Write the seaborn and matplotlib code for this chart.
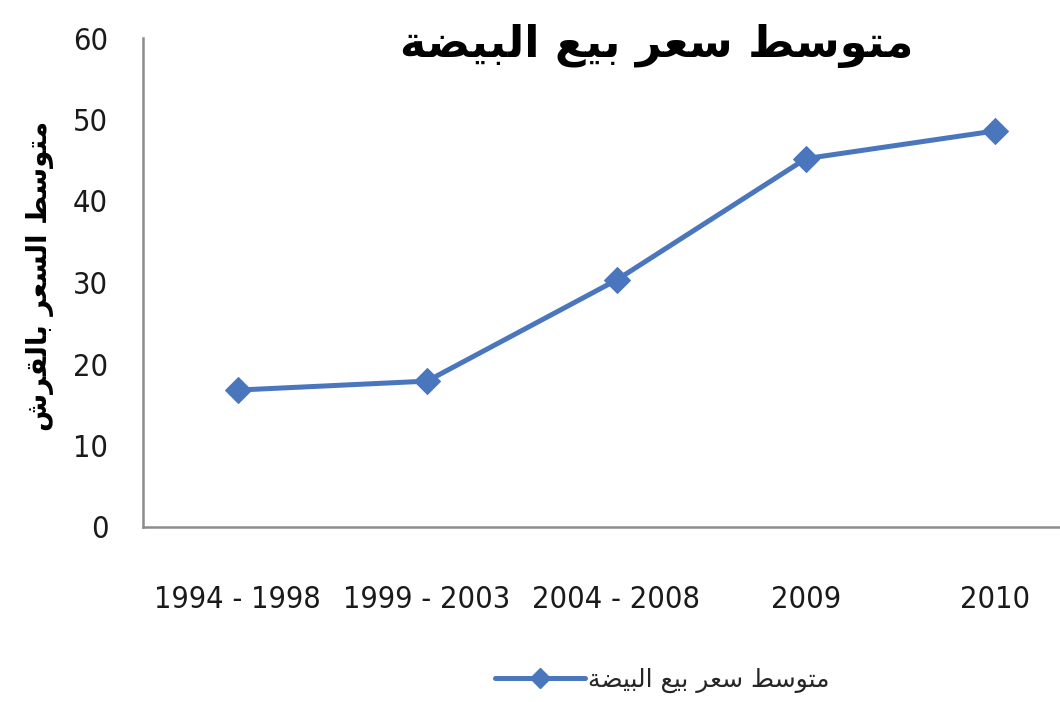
import matplotlib
matplotlib.use("Agg")
import matplotlib.pyplot as plt
import seaborn as sns
import pandas as pd
from matplotlib.lines import Line2D
from matplotlib import font_manager

# Periods and average egg price (piastres)
periods = ["1994 - 1998", "1999 - 2003", "2004 - 2008", "2009", "2010"]
avg_price = [16.8, 17.9, 30.3, 45.2, 48.6]
y_ticks = [0, 10, 20, 30, 40, 50, 60]

# Arabic strings written with contextual presentation forms in display order
title_text = ("\uFE94\uFEC0\uFEF4\uFE92\uFEDF\uFE8D "
              "\uFECA\uFEF4\uFE91 "
              "\uFEAE\uFECC\uFEB3 "
              "\uFEC2\uFEB3\uFEEE\uFE98\uFEE3")
ylabel_text = ("\uFEB5\uFEAE\uFED8\uFEDF\uFE8E\uFE91 "
               "\uFEAE\uFECC\uFEB4\uFEDF\uFE8D "
               "\uFEC2\uFEB3\uFEEE\uFE98\uFEE3")
series_name = title_text

df = pd.DataFrame({"period": periods, "price": avg_price, "series": series_name})

sns.set_style("white")
plt.rcParams["font.family"] = ["DejaVu Sans"]

tick_font = font_manager.FontProperties(family="DejaVu Sans", stretch="condensed",
                                        size=22)

fig = plt.figure(figsize=(10.6, 7.02), dpi=100)
ax = fig.add_axes([143 / 1060, 1 - 527 / 702, (1090 - 143) / 1060, (527 - 38) / 702])

line_color = "#4A76BE"
sns.lineplot(data=df, x="period", y="price", hue="series", palette=[line_color],
             sort=False, marker="D", markersize=13, linewidth=3.6,
             markeredgecolor=line_color, ax=ax, legend=False)

ax.set_xlim(-0.5, len(periods) - 0.5)
ax.set_ylim(0, 60)
ax.set_yticks(y_ticks)
ax.set_yticklabels([str(t) for t in y_ticks], fontproperties=tick_font, color="#1a1a1a")
ax.set_xticks(range(len(periods)))
ax.set_xticklabels(periods, fontproperties=tick_font, color="#1a1a1a")
ax.tick_params(axis="y", length=0, pad=25)
ax.tick_params(axis="x", length=0, pad=42)
ax.set_xlabel("")
ax.set_ylabel("")

for side in ["top", "right"]:
    ax.spines[side].set_visible(False)
for side in ["left", "bottom"]:
    ax.spines[side].set_color("#8c8c8c")
    ax.spines[side].set_linewidth(1.8)

fig.text(657 / 1060, 1 - 46 / 702, title_text, family="DejaVu Sans",
         fontsize=32, fontweight="bold", ha="center", va="center", color="black")
fig.text(40 / 1060, 1 - 276 / 702, ylabel_text, family="DejaVu Sans",
         fontsize=20, fontweight="bold", rotation=90, ha="center", va="center",
         color="black")

# Legend drawn below the axis
handle = Line2D([], [], color=line_color, linewidth=3.6, marker="D",
                markersize=10, markeredgecolor=line_color)
leg = fig.legend([handle], [series_name], loc="center",
                 bbox_to_anchor=(662 / 1060, 1 - 680 / 702), frameon=False,
                 prop={"family": "DejaVu Sans", "size": 18},
                 handlelength=3.6, handletextpad=0.1)

fig.savefig("out.png", dpi=100)
